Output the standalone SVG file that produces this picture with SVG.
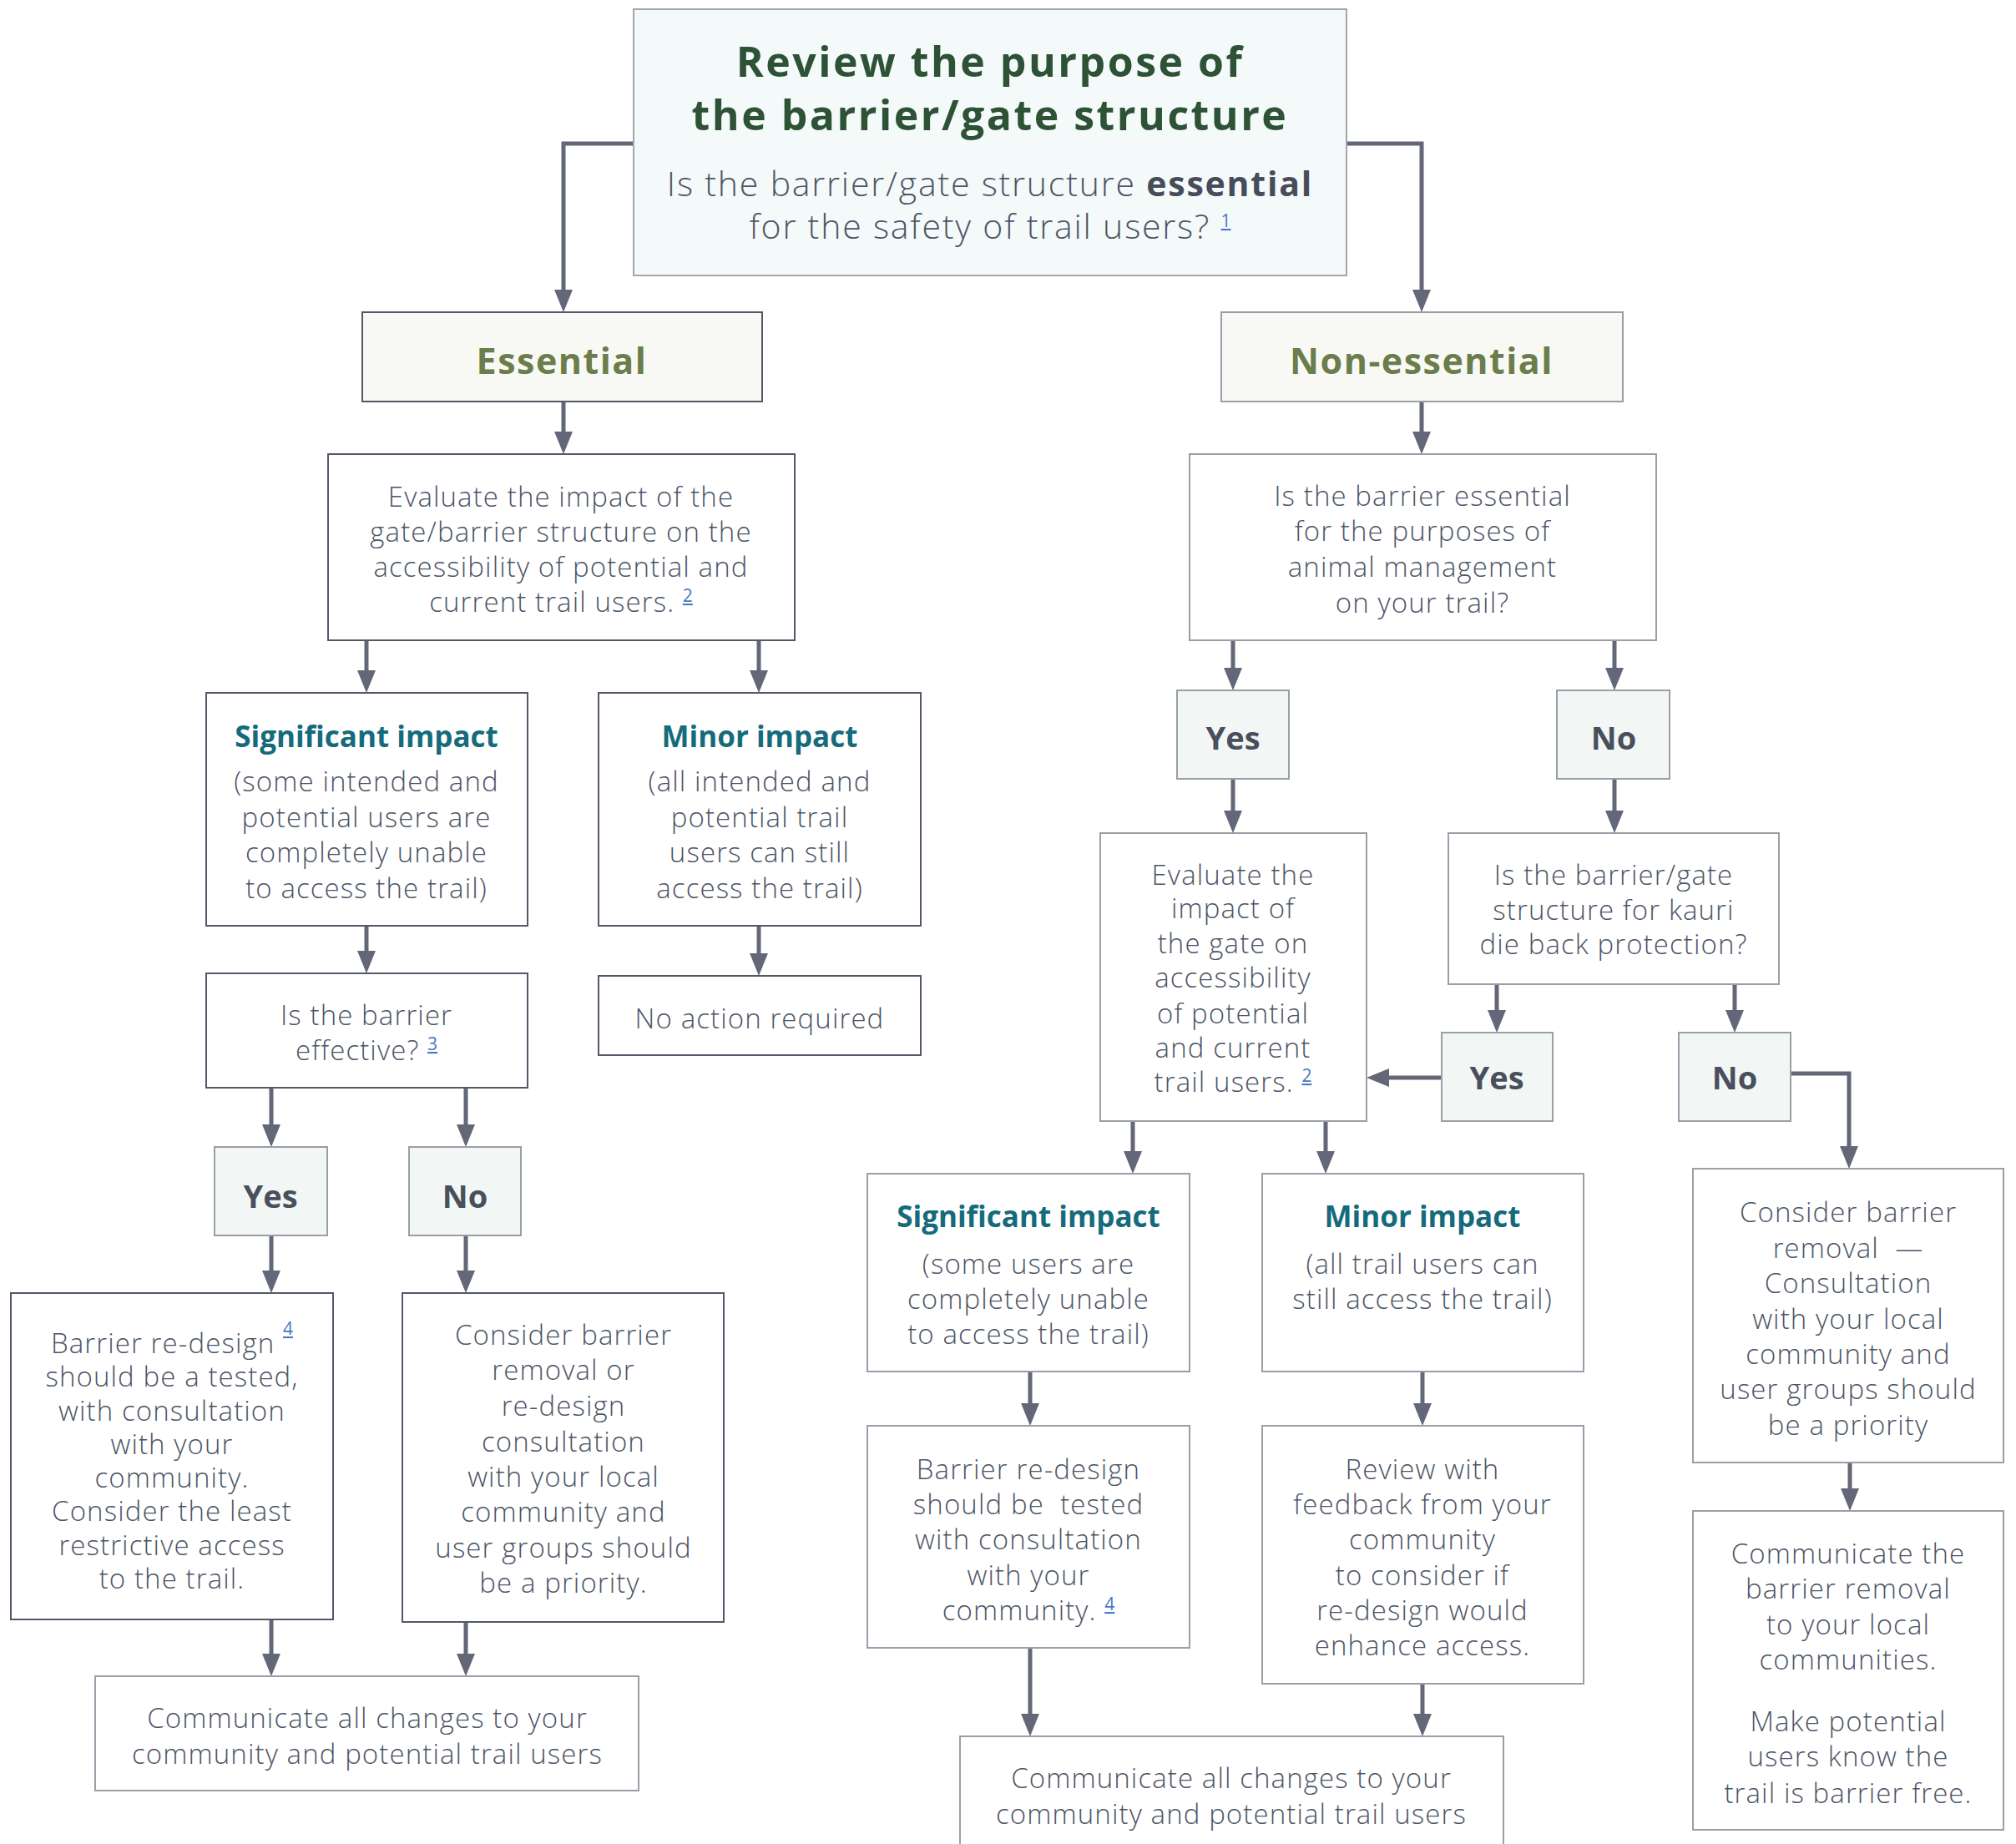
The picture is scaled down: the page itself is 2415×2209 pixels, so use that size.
<svg xmlns="http://www.w3.org/2000/svg" width="2415" height="2209" viewBox="0 0 2415 2209">
<style>
.bx{stroke-width:2}
.dk{fill:#ffffff;stroke:#525868}
.lt{fill:#ffffff;stroke:#9b9ea8}
.yn{fill:#f2f7f5;stroke:#9b9ea8}
.es{fill:#f8f9f4}
.top{fill:#f4f9f9;stroke:#a3a6af}
text{font-family:"Open Sans","Liberation Sans",sans-serif;text-anchor:middle}
.t{font-size:33px;fill:#4d5566;font-weight:300;letter-spacing:1.1px}
.ttl{font-size:50px;font-weight:700;fill:#2e5236;letter-spacing:2.5px}
.sub{font-size:41px;fill:#4d5566;font-weight:300;letter-spacing:1.8px}
.b{font-weight:700;fill:#474c5a}
.ess{font-size:43px;font-weight:700;fill:#6b7d4b;letter-spacing:1.5px}
.h{font-size:35px;font-weight:700;fill:#156b7b}
.yt{font-size:38px;font-weight:700;fill:#4a4f5c}
.sup{font-size:21px;font-weight:400;fill:#4a78c2;text-decoration:underline;letter-spacing:0}
.conn path{fill:none;stroke:#636777;stroke-width:5;marker-end:url(#arr)}
</style>
<defs>
<marker id="arr" markerUnits="userSpaceOnUse" markerWidth="28" markerHeight="22" refX="13" refY="11" orient="auto">
<path d="M0,0 L27,11 L0,22 z" fill="#636777"/>
</marker>
</defs>
<rect width="2415" height="2209" fill="#ffffff"/>

<g class="conn">
<path d="M759,172 H675 V360"/>
<path d="M1613,172 H1703 V360"/>
<path d="M675,481 V530"/>
<path d="M1703,481 V530"/>
<path d="M439,767 V816"/>
<path d="M909,767 V816"/>
<path d="M439,1109 V1152"/>
<path d="M909,1109 V1155"/>
<path d="M325,1303 V1360"/>
<path d="M558,1303 V1360"/>
<path d="M325,1480 V1535"/>
<path d="M558,1480 V1535"/>
<path d="M325,1940 V1994"/>
<path d="M558,1943 V1994"/>
<path d="M1477,767 V813"/>
<path d="M1934,767 V813"/>
<path d="M1477,933 V984"/>
<path d="M1934,933 V984"/>
<path d="M1793,1179 V1223"/>
<path d="M2078,1179 V1223"/>
<path d="M1727,1291 H1651"/>
<path d="M2145,1286 H2215 V1386"/>
<path d="M1357,1343 V1392"/>
<path d="M1588,1343 V1392"/>
<path d="M1234,1643 V1694"/>
<path d="M1704,1643 V1694"/>
<path d="M1234,1974 V2066"/>
<path d="M1704,2017 V2066"/>
<path d="M2216,1752 V1796"/>
</g>

<g id="review">
<rect class="bx top" x="759" y="11" width="854" height="319"/>
<text class="ttl" x="1186" y="92">Review the purpose of</text>
<text class="ttl" x="1186" y="156">the barrier/gate structure</text>
<text class="sub" x="1186" y="235">Is the barrier/gate structure <tspan class="b">essential</tspan></text>
<text class="sub" x="1186" y="286">for the safety of trail users? <tspan class="sup" dy="-14">1</tspan></text>
</g>

<g id="essential">
<rect class="bx dk es" x="434" y="374" width="479" height="107"/>
<text class="ess" x="673" y="448">Essential</text>
</g>

<g id="nonessential">
<rect class="bx lt es" x="1463" y="374" width="481" height="107"/>
<text class="ess" x="1703" y="448">Non-essential</text>
</g>

<g id="evaluate-left">
<rect class="bx dk" x="393" y="544" width="559" height="223"/>
<text class="t" x="672" y="607">Evaluate the impact of the</text>
<text class="t" x="672" y="649">gate/barrier structure on the</text>
<text class="t" x="672" y="691">accessibility of potential and</text>
<text class="t" x="672" y="733">current trail users. <tspan class="sup" dy="-12">2</tspan></text>
</g>

<g id="animal-question">
<rect class="bx lt" x="1425" y="544" width="559" height="223"/>
<text class="t" x="1704" y="606">Is the barrier essential</text>
<text class="t" x="1704" y="648">for the purposes of</text>
<text class="t" x="1704" y="691">animal management</text>
<text class="t" x="1704" y="734">on your trail?</text>
</g>

<g id="sig-left">
<rect class="bx dk" x="247" y="830" width="385" height="279"/>
<text class="h" x="439" y="895">Significant impact</text>
<text class="t" x="439" y="948">(some intended and</text>
<text class="t" x="439" y="991">potential users are</text>
<text class="t" x="439" y="1033">completely unable</text>
<text class="t" x="439" y="1076">to access the trail)</text>
</g>

<g id="minor-left">
<rect class="bx dk" x="717" y="830" width="386" height="279"/>
<text class="h" x="910" y="895">Minor impact</text>
<text class="t" x="910" y="948">(all intended and</text>
<text class="t" x="910" y="991">potential trail</text>
<text class="t" x="910" y="1033">users can still</text>
<text class="t" x="910" y="1076">access the trail)</text>
</g>

<g id="effective">
<rect class="bx dk" x="247" y="1166" width="385" height="137"/>
<text class="t" x="439" y="1228">Is the barrier</text>
<text class="t" x="439" y="1270">effective? <tspan class="sup" dy="-12">3</tspan></text>
</g>

<g id="no-action">
<rect class="bx dk" x="717" y="1169" width="386" height="95"/>
<text class="t" x="910" y="1232">No action required</text>
</g>

<g id="yes-left">
<rect class="bx yn" x="257" y="1374" width="135" height="106"/>
<text class="yt" x="324" y="1447">Yes</text>
</g>

<g id="no-left">
<rect class="bx yn" x="490" y="1374" width="134" height="106"/>
<text class="yt" x="557" y="1447">No</text>
</g>

<g id="redesign-left">
<rect class="bx dk" x="13" y="1549" width="386" height="391"/>
<text class="t" x="206" y="1621">Barrier re-design <tspan class="sup" dy="-22">4</tspan></text>
<text class="t" x="206" y="1661">should be a tested,</text>
<text class="t" x="206" y="1702">with consultation</text>
<text class="t" x="206" y="1742">with your</text>
<text class="t" x="206" y="1782">community.</text>
<text class="t" x="206" y="1822">Consider the least</text>
<text class="t" x="206" y="1863">restrictive access</text>
<text class="t" x="206" y="1903">to the trail.</text>
</g>

<g id="removal-left">
<rect class="bx dk" x="482" y="1549" width="385" height="394"/>
<text class="t" x="675" y="1611">Consider barrier</text>
<text class="t" x="675" y="1653">removal or</text>
<text class="t" x="675" y="1696">re-design</text>
<text class="t" x="675" y="1739">consultation</text>
<text class="t" x="675" y="1781">with your local</text>
<text class="t" x="675" y="1823">community and</text>
<text class="t" x="675" y="1866">user groups should</text>
<text class="t" x="675" y="1908">be a priority.</text>
</g>

<g id="communicate-left">
<rect class="bx lt" x="114" y="2008" width="651" height="137"/>
<text class="t" x="440" y="2070">Communicate all changes to your</text>
<text class="t" x="440" y="2113">community and potential trail users</text>
</g>

<g id="yes-right">
<rect class="bx yn" x="1410" y="827" width="134" height="106"/>
<text class="yt" x="1477" y="898">Yes</text>
</g>

<g id="no-right">
<rect class="bx yn" x="1865" y="827" width="135" height="106"/>
<text class="yt" x="1933" y="898">No</text>
</g>

<g id="evaluate-right">
<rect class="bx lt" x="1318" y="998" width="319" height="345"/>
<text class="t" x="1477" y="1060">Evaluate the</text>
<text class="t" x="1477" y="1100">impact of</text>
<text class="t" x="1477" y="1142">the gate on</text>
<text class="t" x="1477" y="1183">accessibility</text>
<text class="t" x="1477" y="1226">of potential</text>
<text class="t" x="1477" y="1267">and current</text>
<text class="t" x="1477" y="1308">trail users. <tspan class="sup" dy="-12">2</tspan></text>
</g>

<g id="kauri">
<rect class="bx lt" x="1735" y="998" width="396" height="181"/>
<text class="t" x="1933" y="1060">Is the barrier/gate</text>
<text class="t" x="1933" y="1102">structure for kauri</text>
<text class="t" x="1933" y="1143">die back protection?</text>
</g>

<g id="yes-kauri">
<rect class="bx yn" x="1727" y="1237" width="133" height="106"/>
<text class="yt" x="1793" y="1305">Yes</text>
</g>

<g id="no-kauri">
<rect class="bx yn" x="2011" y="1237" width="134" height="106"/>
<text class="yt" x="2078" y="1305">No</text>
</g>

<g id="sig-right">
<rect class="bx lt" x="1039" y="1406" width="386" height="237"/>
<text class="h" x="1232" y="1470">Significant impact</text>
<text class="t" x="1232" y="1526">(some users are</text>
<text class="t" x="1232" y="1568">completely unable</text>
<text class="t" x="1232" y="1610">to access the trail)</text>
</g>

<g id="minor-right">
<rect class="bx lt" x="1512" y="1406" width="385" height="237"/>
<text class="h" x="1704" y="1470">Minor impact</text>
<text class="t" x="1704" y="1526">(all trail users can</text>
<text class="t" x="1704" y="1568">still access the trail)</text>
</g>

<g id="redesign-right">
<rect class="bx lt" x="1039" y="1708" width="386" height="266"/>
<text class="t" x="1232" y="1772">Barrier re-design</text>
<text class="t" x="1232" y="1814" xml:space="preserve">should be  tested</text>
<text class="t" x="1232" y="1856">with consultation</text>
<text class="t" x="1232" y="1899">with your</text>
<text class="t" x="1232" y="1941">community. <tspan class="sup" dy="-12">4</tspan></text>
</g>

<g id="review-right">
<rect class="bx lt" x="1512" y="1708" width="385" height="309"/>
<text class="t" x="1704" y="1772">Review with</text>
<text class="t" x="1704" y="1814">feedback from your</text>
<text class="t" x="1704" y="1856">community</text>
<text class="t" x="1704" y="1899">to consider if</text>
<text class="t" x="1704" y="1941">re-design would</text>
<text class="t" x="1704" y="1983">enhance access.</text>
</g>

<g id="communicate-right">
<rect class="bx lt" x="1150" y="2080" width="651" height="160"/>
<text class="t" x="1475" y="2142">Communicate all changes to your</text>
<text class="t" x="1475" y="2185">community and potential trail users</text>
</g>

<g id="removal-right">
<rect class="bx lt" x="2028" y="1400" width="372" height="352"/>
<text class="t" x="2214" y="1464">Consider barrier</text>
<text class="t" x="2214" y="1507" xml:space="preserve">removal  —</text>
<text class="t" x="2214" y="1549">Consultation</text>
<text class="t" x="2214" y="1592">with your local</text>
<text class="t" x="2214" y="1634">community and</text>
<text class="t" x="2214" y="1676">user groups should</text>
<text class="t" x="2214" y="1719">be a priority</text>
</g>

<g id="communicate-removal">
<rect class="bx lt" x="2028" y="1810" width="372" height="382"/>
<text class="t" x="2214" y="1873">Communicate the</text>
<text class="t" x="2214" y="1915">barrier removal</text>
<text class="t" x="2214" y="1958">to your local</text>
<text class="t" x="2214" y="2000">communities.</text>
<text class="t" x="2214" y="2074">Make potential</text>
<text class="t" x="2214" y="2116">users know the</text>
<text class="t" x="2214" y="2160">trail is barrier free.</text>
</g>
</svg>
